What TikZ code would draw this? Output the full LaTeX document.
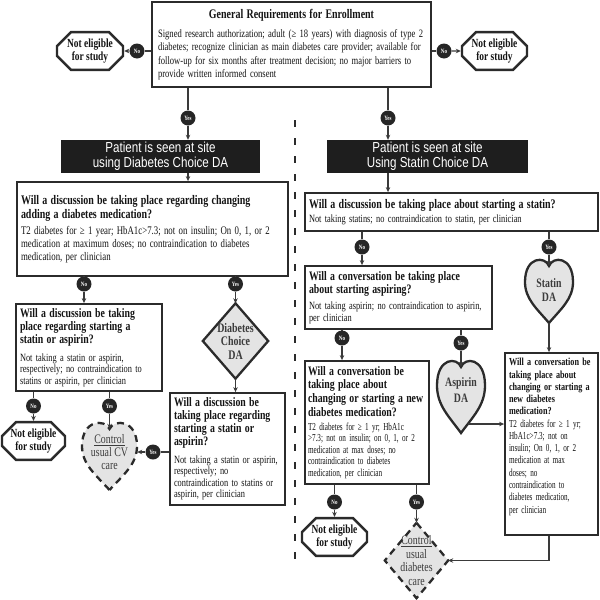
\documentclass[tikz,border=0pt]{standalone}
\usepackage{fontspec}
\setmainfont{Liberation Serif}[FakeStretch=0.76]
\setsansfont{Liberation Sans}[FakeStretch=0.8]
\newfontfamily\narrowrm{Liberation Serif}[FakeStretch=0.67]
\usepackage{xcolor}
\usetikzlibrary{positioning,arrows.meta,shapes.misc,backgrounds,calc}

\definecolor{boxclr}{HTML}{2B2B2B}
\definecolor{lineclr}{HTML}{3A3A3A}
\definecolor{dotclr}{HTML}{262626}
\definecolor{bannerclr}{HTML}{1E1E1E}
\definecolor{shadeclr}{HTML}{E4E4E4}
\definecolor{txtclr}{HTML}{141414}
\definecolor{graytxt}{HTML}{3C3C3C}

% fonts for the boxes
\newcommand\titletxt{\fontsize{13.1}{15}\selectfont\bfseries}
\newcommand\reqtxt{\fontsize{11.3}{13.3}\selectfont}
\newcommand\qbig{\fontsize{13.1}{14}\selectfont\bfseries}
\newcommand\qmid{\fontsize{12.9}{13}\selectfont\bfseries}
\newcommand\qsmall{\fontsize{10.75}{12.2}\selectfont\bfseries}
\newcommand\bodybig{\fontsize{11.6}{12.8}\selectfont}
\newcommand\bodymid{\fontsize{11}{11.5}\selectfont}
\newcommand\bodynarrow{\narrowrm\fontsize{10.7}{11.6}\selectfont}
\newcommand\bannertxt{\sffamily\fontsize{14.5}{15}\selectfont}

% heart round a node: [style] node, half width, cleft above centre, tip below centre
\newcommand\heartat[5][]{%
  \draw[#1,shift={(#2.center)}] (0,#5)
    .. controls ({-0.5*#3},{#5-0.25*(#4+#5)}) and ({-#3},{-#4+0.58*(#4+#5)}) .. ({-#3},{-#4+0.28*(#4+#5)})
    .. controls ({-#3},{-#4-10}) and ({-0.15*#3},{-#4-10}) .. (0,{-#4})
    .. controls ({0.15*#3},{-#4-10}) and ({#3},{-#4-10}) .. ({#3},{-#4+0.28*(#4+#5)})
    .. controls ({#3},{-#4+0.58*(#4+#5)}) and ({0.5*#3},{#5-0.25*(#4+#5)}) .. cycle;}

\begin{document}
\begin{tikzpicture}[
    x=1pt, y=-1pt,
    every node/.style={text=txtclr},
    reqbox/.style={draw=boxclr, line width=2pt, fill=white, inner xsep=6pt, inner ysep=0pt,
        align=left, text width=267pt, minimum height=85pt},
    qbox/.style={draw=boxclr, line width=1.8pt, fill=white, inner xsep=4pt, inner ysep=0pt, align=left},
    banner/.style={fill=bannerclr, text=white, font=\bannertxt, align=center, inner sep=0pt,
        minimum height=33pt},
    noteligible/.style={chamfered rectangle, chamfered rectangle xsep=7pt, chamfered rectangle ysep=7pt,
        draw=boxclr, line width=2.4pt, fill=white, font=\fontsize{12.4}{12.5}\selectfont\bfseries,
        align=center, inner sep=0pt},
    yesno/.style={circle, fill=dotclr, text=white, font=\fontsize{6.5}{6.5}\selectfont\bfseries,
        minimum size=15pt, inner sep=0pt},
    heartbox/.style={inner sep=0pt, align=center, text=graytxt},
    diamondbox/.style={inner sep=0pt, align=center, text=graytxt},
    shapeline/.style={draw=boxclr, line width=2.3pt, fill=shadeclr, line join=miter},
    dashedline/.style={dash pattern=on 7pt off 5pt},
    conn/.style={draw=lineclr, line width=1.1pt},
    arrow/.style={conn, -{Stealth[length=5pt, width=4.5pt]}},
    sepline/.style={draw=boxclr, line width=1.8pt, dash pattern=on 7pt off 11pt}
]
\useasboundingbox (0,0) rectangle (600,600);

% enrollment
\node[reqbox] (req) at (291.5,44.5) {{\titletxt\centering General Requirements for Enrollment\par}\vspace{6pt}%
  {\reqtxt Signed research authorization; adult (≥ 18 years) with diagnosis of type 2\\
  diabetes; recognize clinician as main diabetes care provider; available for\\
  follow-up for six months after treatment decision; no major barriers to\\
  provide written informed consent\par}};
\node[noteligible, minimum width=66pt, minimum height=34pt] (nel1) at (90,51) {Not eligible\\for study};
\node[noteligible, minimum width=65pt, minimum height=35pt] (ner1) at (494.5,51) {Not eligible\\for study};
\node[yesno] (nol1) at (137,51) {No};
\node[yesno] (nor1) at (444,51) {No};
\node[yesno] (yesl) at (188,118) {Yes};
\node[yesno] (yesr) at (388,118) {Yes};

\coordinate (septop) at (295,120);
\coordinate (sepbot) at (295,565);

% diabetes choice side
\node[banner, minimum width=199pt] (banl) at (160.5,156.5) {Patient is seen at site\\using Diabetes Choice DA};
\node[qbox, text width=263pt, minimum height=94pt] (ql1) at (152.5,229)
  {{\qbig Will a discussion be taking place regarding changing\\ adding a diabetes medication?\par}\vspace{4pt}%
   {\bodybig T2 diabetes for ≥ 1 year; HbA1c>7.3; not on insulin; On 0, 1, or 2\\
   medication at maximum doses; no contraindication to diabetes\\ medication, per clinician\par}};
\node[yesno] (nol2) at (84,284) {No};
\node[yesno] (yesl2) at (235.5,284) {Yes};
\node[qbox, text width=138pt, minimum height=87pt] (ql2) at (89,347.5)
  {{\qmid Will a discussion be taking\\ place regarding starting a\\ statin or aspirin?\par}\vspace{6pt}%
   {\bodymid Not taking a statin or aspirin,\\ respectively; no contraindication to\\ statins or aspirin, per clinician\par}};
\node[diamondbox, minimum width=65pt, minimum height=75pt, font=\fontsize{13.1}{13.5}\selectfont\bfseries]
  (dcda) at (235.5,341) {Diabetes\\Choice\\DA};
\node[qbox, text width=107pt, minimum height=112pt] (ql3) at (227.5,449)
  {{\qmid Will a discussion be\\ taking place regarding\\ starting a statin or\\ aspirin?\par}\vspace{6pt}%
   {\bodymid Not taking a statin or aspirin,\\ respectively; no\\ contraindication to statins or\\ aspirin, per clinician\par}};
\node[yesno] (nol3) at (33.5,406) {No};
\node[yesno] (yesl3) at (109.5,406) {Yes};
\node[yesno] (yesl4) at (153,452) {Yes};
\node[noteligible, minimum width=63pt, minimum height=32pt] (nel2) at (33.5,441) {Not eligible\\for study};
\node[heartbox, minimum width=55pt, minimum height=46pt, font=\fontsize{13}{13.2}\selectfont]
  (cvcare) at (109.5,452) {\underline{Control}\\usual CV\\care};

% statin choice side
\node[banner, minimum width=201pt] (banr) at (427.5,156.5) {Patient is seen at site\\Using Statin Choice DA};
\node[qbox, text width=285pt, minimum height=38pt] (qr1) at (451.5,212)
  {{\qbig Will a discussion be taking place about starting a statin?\par}\vspace{3pt}%
   {\bodymid Not taking statins; no contraindication to statin, per clinician\par}};
\node[yesno] (nor2) at (362,247) {No};
\node[yesno] (yesr2) at (549,247) {Yes};
\node[qbox, text width=179pt, minimum height=63pt] (qr2) at (398.5,297.5)
  {{\qmid Will a conversation be taking place\\ about starting aspiring?\par}\vspace{5pt}%
   {\bodymid Not taking aspirin; no contraindication to aspirin,\\ per clinician\par}};
\node[heartbox, minimum width=48pt, minimum height=48pt, font=\fontsize{12.9}{14}\selectfont\bfseries]
  (statin) at (549,290) {Statin\\DA};
\node[yesno] (nor3) at (342,338) {No};
\node[yesno] (yesr3) at (461,343) {Yes};
\node[heartbox, minimum width=48pt, minimum height=46pt, font=\fontsize{12.9}{16}\selectfont\bfseries]
  (aspirin) at (461,390) {Aspirin\\DA};
\node[qbox, inner xsep=3pt, text width=118pt, minimum height=123pt] (qr3) at (367,422.5)
  {{\fontsize{12.9}{13.8}\selectfont\bfseries Will a conversation be\\ taking place about\\ changing or starting a new\\ diabetes medication?\par}\vspace{2pt}%
   {\bodynarrow T2 diabetes for ≥ 1 yr; HbA1c\\ >7.3; not on insulin; on 0, 1, or 2\\ medication at max doses; no\\
   contraindication to diabetes\\ medication, per clinician\par}};
\node[qbox, text width=85pt, minimum height=182pt] (qr4) at (551.5,444)
  {{\qsmall Will a conversation be\\ taking place about\\ changing or starting a\\ new diabetes\\ medication?\par}%
   {\narrowrm\fontsize{10.7}{12.3}\selectfont T2 diabetes for ≥ 1 yr;\\ HbA1c>7.3; not on\\ insulin; On 0, 1, or 2\\
   medication at max\\ doses; no\\ contraindication to\\ diabetes medication,\\ per clinician\par}\vspace*{14pt}};
\node[yesno] (nor4) at (334.5,502) {No};
\node[yesno] (yesr4) at (416.5,502) {Yes};
\node[noteligible, minimum width=65pt, minimum height=30pt] (ner2) at (334.5,537) {Not eligible\\for study};
\node[diamondbox, minimum width=63pt, minimum height=75pt, font=\fontsize{13}{13.6}\selectfont]
  (diabcare) at (416.5,560.5) {\underline{Control}\\usual\\diabetes\\care};

\coordinate (statintip) at ($(statin.center)+(0,33)$);
\coordinate (aspout) at ($(aspirin.center)+(7,34)$);

% shapes behind the texts
\begin{scope}[on background layer]
  \draw[shapeline] (dcda.north) -- (dcda.east) -- (dcda.south) -- (dcda.west) -- cycle;
  \draw[shapeline, dashedline] (diabcare.north) -- (diabcare.east) -- (diabcare.south) -- (diabcare.west) -- cycle;
  \heartat[shapeline]{statin}{24}{24}{33}
  \heartat[shapeline]{aspirin}{24}{23}{43}
  \heartat[shapeline, dashedline]{cvcare}{27.5}{23}{38}
\end{scope}

% connectors
\draw[conn] (req.west |- nol1) -- (nol1);
\draw[arrow] (nol1) -- (nel1);
\draw[conn] (req.east |- nor1) -- (nor1);
\draw[arrow] (nor1) -- (ner1);
\draw[conn] (req.south -| yesl) -- (yesl);
\draw[arrow] (yesl) -- (yesl |- banl.north);
\draw[conn] (req.south -| yesr) -- (yesr);
\draw[arrow] (yesr) -- (yesr |- banr.north);
\draw[sepline] (septop) -- (sepbot);

\draw[arrow] (banl.south -| yesl) -- (ql1.north -| yesl);
\draw[conn] (ql1.south -| nol2) -- (nol2);
\draw[arrow] (nol2) -- (ql2.north -| nol2);
\draw[conn] (ql1.south -| yesl2) -- (yesl2);
\draw[arrow] (yesl2) -- (dcda.north);
\draw[arrow] (dcda.south) -- (ql3.north -| dcda.south);
\draw[conn] (ql2.south -| nol3) -- (nol3);
\draw[arrow] (nol3) -- (nel2.north);
\draw[conn] (ql2.south -| yesl3) -- (yesl3);
\draw[arrow] (yesl3) -- (cvcare.north);
\draw[conn] (ql3.west |- yesl4) -- (yesl4);
\draw[arrow] (yesl4) -- (yesl4 -| cvcare.east);

\draw[arrow] (banr.south -| yesr) -- (qr1.north -| yesr);
\draw[conn] (qr1.south -| nor2) -- (nor2);
\draw[arrow] (nor2) -- (qr2.north -| nor2);
\draw[conn] (qr1.south -| yesr2) -- (yesr2);
\draw[arrow] (yesr2) -- (statin.north);
\draw[conn] (qr2.south -| nor3) -- (nor3);
\draw[arrow] (nor3) -- (qr3.north -| nor3);
\draw[conn] (qr2.south -| yesr3) -- (yesr3);
\draw[arrow] (yesr3) -- (aspirin.north);
\draw[arrow] (statintip) -- (qr4.north -| statintip);
\draw[arrow] (aspout) -- (aspout -| qr4.west);
\draw[conn] (qr3.south -| nor4) -- (nor4);
\draw[arrow] (nor4) -- (ner2.north);
\draw[conn] (qr3.south -| yesr4) -- (yesr4);
\draw[arrow] (yesr4) -- (diabcare.north);
\draw[arrow] (qr4.south -| statintip) |- (diabcare.east);

\end{tikzpicture}
\end{document}
